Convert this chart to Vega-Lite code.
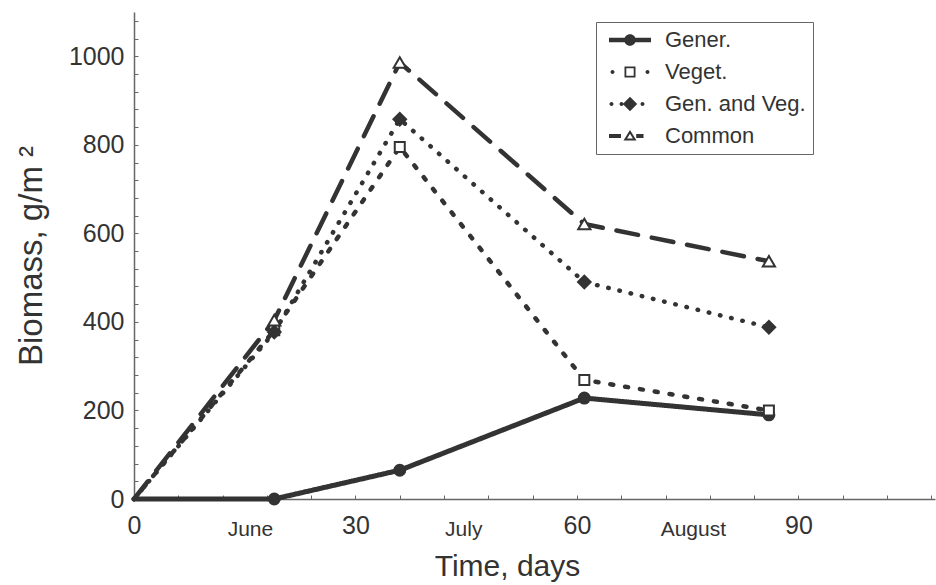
{
  "$schema": "https://vega.github.io/schema/vega-lite/v6.json",
  "width": 801,
  "height": 487,
  "autosize": {"type": "none"},
  "padding": {"left": 134, "top": 12, "right": 1, "bottom": 86},
  "background": "white",
  "config": {
    "view": {"stroke": null},
    "font": "Liberation Sans",
    "axis": {
      "grid": false,
      "domainColor": "#666",
      "domainWidth": 1.5,
      "tickColor": "#666",
      "tickWidth": 1,
      "labelColor": "#333",
      "titleColor": "#333",
      "labelFont": "Liberation Sans",
      "titleFont": "Liberation Sans",
      "titleFontWeight": "normal",
      "labelOverlap": false,
      "labelFlush": false
    }
  },
  "data": {
    "values": [
      {"series": "Gener.", "day": 0, "biomass": 0},
      {"series": "Gener.", "day": 19, "biomass": 0},
      {"series": "Gener.", "day": 36, "biomass": 65},
      {"series": "Gener.", "day": 61, "biomass": 228},
      {"series": "Gener.", "day": 86, "biomass": 190},
      {"series": "Veget.", "day": 0, "biomass": 0},
      {"series": "Veget.", "day": 19, "biomass": 381},
      {"series": "Veget.", "day": 36, "biomass": 795},
      {"series": "Veget.", "day": 61, "biomass": 269},
      {"series": "Veget.", "day": 86, "biomass": 200},
      {"series": "Gen. and Veg.", "day": 0, "biomass": 0},
      {"series": "Gen. and Veg.", "day": 19, "biomass": 377},
      {"series": "Gen. and Veg.", "day": 36, "biomass": 858},
      {"series": "Gen. and Veg.", "day": 61, "biomass": 490},
      {"series": "Gen. and Veg.", "day": 86, "biomass": 388},
      {"series": "Common", "day": 0, "biomass": 0},
      {"series": "Common", "day": 19, "biomass": 404},
      {"series": "Common", "day": 36, "biomass": 986},
      {"series": "Common", "day": 61, "biomass": 621},
      {"series": "Common", "day": 86, "biomass": 537}
    ]
  },
  "encoding": {
    "x": {
      "field": "day",
      "type": "quantitative",
      "scale": {"domain": [0, 108.5], "nice": false, "zero": false},
      "axis": {
        "values": [0, 6, 12, 15.7, 18, 24, 30, 36, 42, 44.6, 48, 54, 60, 66, 72, 75.7, 78, 84, 90, 96, 102, 108],
        "format": ".1f",
        "labelExpr": "datum.value == 15.7 ? 'June' : datum.value == 44.6 ? 'July' : datum.value == 75.7 ? 'August' : (datum.value % 30 == 0 ? format(datum.value, 'd') : '')",
        "tickSize": -4,
        "tickOpacity": {"condition": {"test": "datum.value == 15.7 || datum.value == 44.6 || datum.value == 75.7", "value": 0}, "value": 1},
        "labelFontSize": {"condition": {"test": "datum.value == 15.7 || datum.value == 44.6 || datum.value == 75.7", "value": 21}, "value": 25},
        "labelPadding": {"condition": {"test": "datum.value == 15.7 || datum.value == 44.6 || datum.value == 75.7", "value": 23}, "value": 18},
        "title": "Time, days",
        "titleFontSize": 30,
        "titlePadding": 12,
        "titleX": 373
      }
    },
    "y": {
      "field": "biomass",
      "type": "quantitative",
      "scale": {"domain": [0, 1100], "nice": false},
      "axis": {
        "values": [0, 40, 80, 120, 160, 200, 240, 280, 320, 360, 400, 440, 480, 520, 560, 600, 640, 680, 720, 760, 800, 840, 880, 920, 960, 1000, 1040, 1080],
        "format": "d",
        "labelExpr": "datum.value % 200 == 0 ? datum.label : ''",
        "tickSize": -4,
        "labelFontSize": 25,
        "labelPadding": 14,
        "title": "Biomass, g/m  ²",
        "titleFontSize": 33,
        "titlePadding": 20
      }
    }
  },
  "layer": [
    {
      "mark": {"type": "line", "color": "#333", "strokeCap": "round", "strokeJoin": "round"},
      "encoding": {
        "strokeDash": {
          "field": "series",
          "type": "nominal",
          "scale": {"domain": ["Gener.", "Veget.", "Gen. and Veg.", "Common"], "range": [[1, 0], [3, 12], [0.5, 11], [22, 14]]},
          "legend": null
        },
        "strokeWidth": {
          "field": "series",
          "type": "ordinal",
          "scale": {"type": "ordinal", "domain": ["Gener.", "Veget.", "Gen. and Veg.", "Common"], "range": [5, 4.5, 4.5, 4.5]},
          "legend": null
        },
        "order": {"field": "day"}
      }
    },
    {
      "transform": [{"filter": "datum.day > 0"}],
      "mark": {"type": "point", "stroke": "#333", "strokeWidth": 2, "opacity": 1},
      "encoding": {
        "shape": {
          "field": "series",
          "type": "nominal",
          "scale": {"domain": ["Gener.", "Veget.", "Gen. and Veg.", "Common"], "range": ["circle", "square", "diamond", "triangle-up"]},
          "legend": null
        },
        "fill": {
          "field": "series",
          "type": "nominal",
          "scale": {"domain": ["Gener.", "Veget.", "Gen. and Veg.", "Common"], "range": ["#333333", "#ffffff", "#333333", "#ffffff"]},
          "legend": null
        },
        "size": {
          "field": "series",
          "type": "ordinal",
          "scale": {"type": "ordinal", "domain": ["Gener.", "Veget.", "Gen. and Veg.", "Common"], "range": [120, 100, 160, 150]},
          "legend": null
        }
      }
    },
    {
      "mark": {"type": "point", "filled": true, "color": "#333", "strokeWidth": 0, "opacity": 0},
      "encoding": {
        "shape": {
          "field": "series",
          "type": "nominal",
          "scale": {
            "domain": ["Gener.", "Veget.", "Gen. and Veg.", "Common"],
            "range": [
              "M-2.1,-0.22H-0.54V0.22H-2.1Z M0.54,-0.22H2.1V0.22H0.54Z M-0.58,0A0.58,0.58 0 1 1 0.58,0A0.58,0.58 0 1 1 -0.58,0Z",
              "M-1.95,0A0.2,0.2 0 1 1 -1.55,0A0.2,0.2 0 1 1 -1.95,0Z M1.55,0A0.2,0.2 0 1 1 1.95,0A0.2,0.2 0 1 1 1.55,0Z M-0.55,-0.55H0.55V0.55H-0.55Z M-0.37,-0.37V0.37H0.37V-0.37Z",
              "M-2.05,0A0.2,0.2 0 1 1 -1.65,0A0.2,0.2 0 1 1 -2.05,0Z M-1.05,0A0.2,0.2 0 1 1 -0.65,0A0.2,0.2 0 1 1 -1.05,0Z M1.05,0A0.2,0.2 0 1 1 1.45,0A0.2,0.2 0 1 1 1.05,0Z M0,-0.72L0.72,0L0,0.72L-0.72,0Z",
              "M-2.1,-0.2H-0.9V0.2H-2.1Z M0.62,-0.2H1.35V0.2H0.62Z M0,-0.6L0.65,0.45L-0.65,0.45Z M0,-0.22L-0.29,0.25L0.29,0.25Z"
            ]
          },
          "legend": {
            "title": null,
            "orient": "none",
            "direction": "vertical",
            "legendX": 462,
            "legendY": 10,
            "strokeColor": "#666",
            "padding": 7,
            "symbolSize": 400,
            "symbolOffset": 16,
            "symbolStrokeWidth": 0,
            "symbolFillColor": "#333",
            "symbolOpacity": 1,
            "labelOffset": 24,
            "rowPadding": 10,
            "labelFont": "Liberation Sans",
            "labelFontSize": 22,
            "labelColor": "#333"
          }
        }
      }
    }
  ],
  "resolve": {"scale": {"shape": "independent", "size": "independent"}}
}
